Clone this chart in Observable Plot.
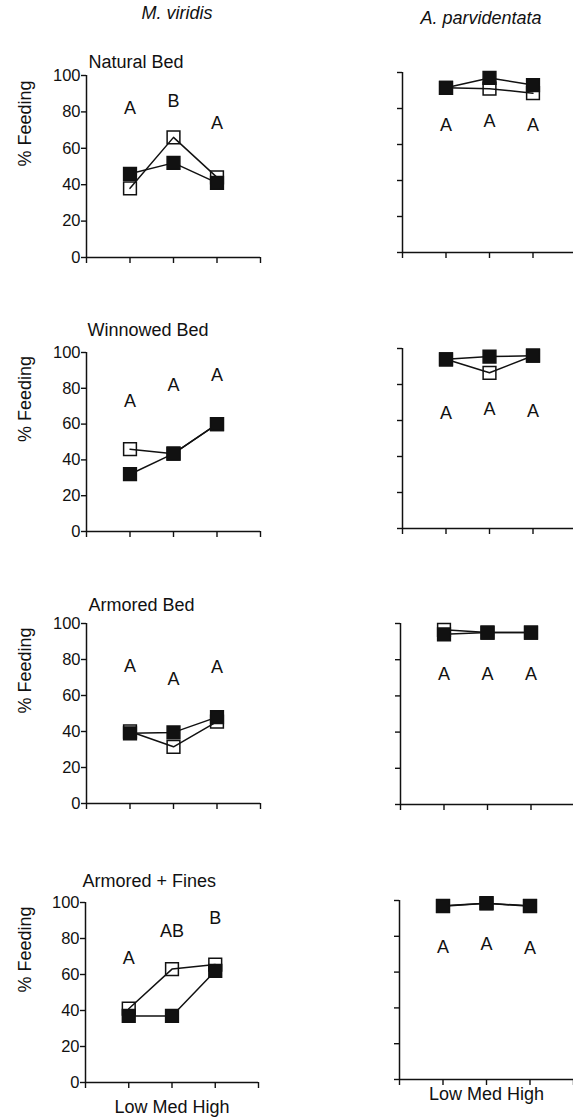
<!DOCTYPE html>
<html><head><meta charset="utf-8">
<script src="https://cdn.jsdelivr.net/npm/d3@7"></script>
<script src="https://cdn.jsdelivr.net/npm/@observablehq/plot@0.6"></script>
<style>
body{margin:0;background:#fff;}
#chart{position:relative;width:573px;height:1120px;overflow:hidden;background:#fff;}
#chart svg{position:absolute;}
</style></head><body><div id="chart"></div>
<script>
// ---- data ----
const levels = ["Low", "Med", "High"];
const beds = ["Natural Bed", "Winnowed Bed", "Armored Bed", "Armored + Fines"];
const species = ["M. viridis", "A. parvidentata"];
const yTicks = [0, 20, 40, 60, 80, 100];
const xTicks = [0, 1, 2, 3, 4];
// % feeding, open squares and filled squares, one row per bed
const openViridis   = [[38, 66, 44], [46, 43.5, 60], [40, 31.5, 45.5], [41, 63, 65.5]];
const filledViridis = [[46, 52, 41], [32, 43.5, 60], [39, 39.5, 48], [37, 37, 62]];
const openParv      = [[91.5, 91, 88.5], [94, 86.5, 96], [96.5, 95, 95], [97, 98.5, 97]];
const filledParv    = [[91.5, 97, 93], [94, 95.5, 96], [94, 95, 95], [96.8, 98.4, 96.8]];
// significance letters and their heights (in % units)
const lettersViridis = [["A", "B", "A"], ["A", "A", "A"], ["A", "A", "A"], ["A", "AB", "B"]];
const letterYViridis = [[82, 86, 73.6], [72.5, 81.6, 87.5], [76.2, 69.3, 75.8], [69.3, 84, 91.5]];
const lettersParv = [["A", "A", "A"], ["A", "A", "A"], ["A", "A", "A"], ["A", "A", "A"]];
const letterYParv = [[70.5, 73, 70.5], [64, 66, 65.4], [71.8, 71.8, 71.8], [74, 75.4, 73.6]];
const yLabel = "% Feeding";

// ---- layout (pixels) ----
const leftLayout = [
  {axisX: 86, y100: 75, y0: 257, span: 174, tdx: 2, tdy: -8},
  {axisX: 86, y100: 352, y0: 531, span: 174, tdx: 1, tdy: -17},
  {axisX: 86, y100: 623, y0: 803, span: 174, tdx: 2, tdy: -13},
  {axisX: 85, y100: 902, y0: 1082, span: 173, tdx: -3, tdy: -16, bdy: 18}
];
const rightLayout = [
  {axisX: 402, y100: 72, y0: 252, span: 174},
  {axisX: 402, y100: 348, y0: 528, span: 174},
  {axisX: 400, y100: 623, y0: 804, span: 174},
  {axisX: 399, y100: 900, y0: 1079, span: 174, bdy: 8}
];

const FONT = "Liberation Sans, Arial, Helvetica, sans-serif";
const INK = "#111";

function panel(col, row) {
  const L = col === 0 ? leftLayout[row] : rightLayout[row];
  const svgLeft = col === 0 ? 0 : 290, svgTop = row * 280, W = 290, H = 280;
  const ml = L.axisX - svgLeft, mt = L.y100 - svgTop, mb = svgTop + H - L.y0, mr = W - ml - L.span;
  const open = (col === 0 ? openViridis : openParv)[row];
  const filled = (col === 0 ? filledViridis : filledParv)[row];
  const lets = (col === 0 ? lettersViridis : lettersParv)[row];
  const letY = (col === 0 ? letterYViridis : letterYParv)[row];
  const openRows = levels.map((lv, i) => ({level: lv, pos: i + 1, value: open[i]}));
  const filledRows = levels.map((lv, i) => ({level: lv, pos: i + 1, value: filled[i]}));
  const letterRows = levels.map((lv, i) => ({level: lv, pos: i + 1, value: letY[i], text: lets[i]}));

  const marks = [
    Plot.ruleY([0], {x1: 0, x2: 4, stroke: INK, strokeWidth: 1.5}),
    Plot.ruleX([0], {y1: 0, y2: 100, stroke: INK, strokeWidth: 1.5}),
    Plot.axisY({ticks: yTicks, tickSize: 5, tickPadding: 1, label: null, stroke: INK, strokeWidth: 1.4,
      fontSize: 16.5, tickFormat: col === 0 ? (d => String(d)) : (() => "")}),
    Plot.axisX({ticks: xTicks, tickSize: 6, label: null, stroke: INK, strokeWidth: 1.4, tickFormat: () => ""}),
    Plot.dot(openRows, {x: "pos", y: "value", symbol: "square", r: 7.2, fill: "white", stroke: INK, strokeWidth: 1.5}),
    Plot.line(openRows, {x: "pos", y: "value", stroke: INK, strokeWidth: 1.5}),
    Plot.line(filledRows, {x: "pos", y: "value", stroke: INK, strokeWidth: 1.5}),
    Plot.dot(filledRows, {x: "pos", y: "value", symbol: "square", r: 7.2, fill: INK, stroke: INK, strokeWidth: 1.5}),
    Plot.text(letterRows, {x: "pos", y: "value", text: "text", fontSize: 18, fill: INK})
  ];
  if (col === 0) {
    marks.push(Plot.text([beds[row]], {frameAnchor: "top-left", textAnchor: "start", lineAnchor: "bottom",
      dx: L.tdx, dy: L.tdy, fontSize: 18, fill: INK}));
    marks.push(Plot.text([yLabel], {frameAnchor: "left", rotate: -90, dx: 25 - L.axisX, fontSize: 18, fill: INK}));
  }
  if (row === 0) {
    marks.push(Plot.text([species[col]], {frameAnchor: "top", lineAnchor: "bottom", fontStyle: "italic",
      dx: col === 0 ? 3.5 : -8.5, dy: col === 0 ? -57 : -49, fontSize: 18, fill: INK}));
  }
  if (row === 3) {
    marks.push(Plot.text([levels.join(" ")], {frameAnchor: "bottom", lineAnchor: "top", dy: L.bdy,
      fontSize: 18, fill: INK}));
  }
  const svg = Plot.plot({
    width: W, height: H,
    marginLeft: ml, marginRight: mr, marginTop: mt, marginBottom: mb,
    x: {type: "linear", domain: [0, 4]},
    y: {type: "linear", domain: [0, 100]},
    style: {fontFamily: FONT, fontSize: "16px", color: INK, background: "transparent", overflow: "visible"},
    marks
  });
  svg.style.left = svgLeft + "px";
  svg.style.top = svgTop + "px";
  return svg;
}

const chart = document.getElementById("chart");
for (let row = 0; row < 4; row++) for (let col = 0; col < 2; col++) chart.appendChild(panel(col, row));
</script></body></html>
